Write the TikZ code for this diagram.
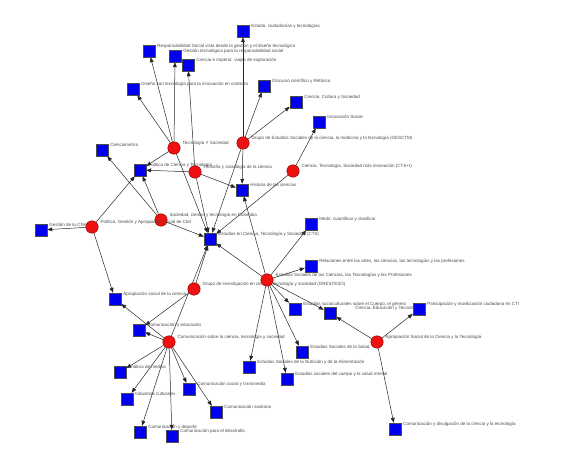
\documentclass[tikz,border=0pt]{standalone}
\usepackage{fontspec}
\setmainfont{Liberation Sans}
\usetikzlibrary{arrows.meta,positioning,backgrounds}
\definecolor{sqblue}{HTML}{0000EE}
\definecolor{dotred}{HTML}{EE1111}
\definecolor{labgray}{HTML}{4A4A4A}

\begin{document}
\begin{tikzpicture}[x=1pt,y=-1pt,
  bsq/.style={draw=black!70,fill=sqblue,minimum size=12pt,inner sep=0pt},
  rdot/.style={circle,draw=red!55!black,fill=dotred,minimum size=12.5pt,inner sep=0pt},
  lab/.style={font=\fontsize{4.5}{5}\selectfont,text=labgray,inner sep=0pt,yshift=5pt},
  label distance=2pt,
  arr/.style={-{Triangle[length=5pt,width=3.8pt]},line width=0.5pt,draw=black!85},
]
\useasboundingbox (0,0) rectangle (576,473);
% groups
\node[rdot,label={[lab]east:Tecnología Y Sociedad}] (tys) at (174,148) {};
\node[rdot,label={[lab]east:{Grupo de Estudios Sociales de la ciencia, la medicina y la tecnología (GESCTM)}}] (gesctm) at (243,143) {};
\node[rdot,label={[lab]east:Filosofía y sociología de la ciencia}] (filo) at (195,172) {};
\node[rdot,label={[lab]east:{Ciencia, Tecnología, Sociedad más innovación (CTS+I)}}] (ctsi) at (293,171) {};
\node[rdot,label={[lab]east:{Sociedad, ciencia y tecnología en Colombia}}] (scc) at (161,220) {};
\node[rdot,label={[lab]east:{Política, Gestión y Apropiación Social de CteI}}] (pgas) at (92,227) {};
\node[rdot,label={[lab]east:{Grupo de investigación en ciencia, tecnología y sociedad (GRESTESO)}}] (grest) at (194,289) {};
\node[rdot,label={[lab]east:{Estudios Sociales de las Ciencias, las Tecnologías y las Profesiones}}] (profes) at (267,280) {};
\node[rdot,label={[lab]east:{Comunicación sobre la ciencia, tecnología y sociedad}}] (comcts) at (169,342) {};
\node[rdot,label={[lab]east:Apropiación Social de la Ciencia y la Tecnología}] (asct) at (377,342) {};
% lines
\node[bsq,label={[lab]east:{Estado, ciudadanías y tecnologías}}] (estado) at (243,31) {};
\node[bsq,label={[lab]east:Responsabilidad Social vista desde la gestión y el diseño tecnológico}] (resp) at (149,51) {};
\node[bsq,label={[lab]east:Gestión tecnológica para la responsabilidad social}] (gestec) at (175,56) {};
\node[bsq,label={[lab]east:{Ciencia e Imperio: viajes de exploración}}] (imperio) at (188,65) {};
\node[bsq,label={[lab]east:Diseño con tecnología para la innovación en contexto}] (diseno) at (133,89) {};
\node[bsq,label={[lab]east:Discurso científico y Retórica}] (discurso) at (264,86) {};
\node[bsq,label={[lab]east:{Ciencia, Cultura y Sociedad}}] (cultura) at (296,102) {};
\node[bsq,label={[lab]east:Innovación Social}] (innov) at (319,122) {};
\node[bsq,label={[lab]east:Cienciometría}] (cienciom) at (102,150) {};
\node[bsq,label={[lab]east:Política de Ciencia y Tecnología}] (polcyt) at (140,170) {};
\node[bsq,label={[lab]east:Historia de las ciencias}] (historia) at (242,190) {};
\node[bsq,label={[lab]east:Gestión de la CTeI}] (gestcti) at (41,230) {};
\node[bsq,label={[lab]east:{Estudios en Ciencia, Tecnología y Sociedad (CTS)}}] (cts) at (210,239) {};
\node[bsq,label={[lab]east:{Medir, cuantificar y clasificar}}] (medir) at (311,224) {};
\node[bsq,label={[lab]east:{Relaciones entre las artes, las ciencias, las tecnologías y las profesiones}}] (relac) at (311,266) {};
\node[bsq,label={[lab]east:Apropiación social de la ciencia}] (aprop) at (115,299) {};
\node[bsq,label={[lab]east:Comunicación y educación}] (comedu) at (139,330) {};
\node[bsq,label={[lab]east:{Estudios socioculturales sobre el Cuerpo, el género}}] (cuerpo) at (295,309) {};
\node[bsq,label={[lab,xshift=17pt]east:{Ciencia, Educación y Tecnología}}] (ciedu) at (330,313) {};
\node[bsq,label={[lab]east:Participación y movilización ciudadana en CTI}] (partic) at (419,309) {};
\node[bsq,label={[lab]east:Estudios Sociales de la Salud}] (salud) at (302,352) {};
\node[bsq,label={[lab]east:Estudios Sociales de la Nutrición y de la Alimentación}] (nutri) at (249,367) {};
\node[bsq,label={[lab]east:Estudios sociales del cuerpo y la salud mental}] (mental) at (287,379) {};
\node[bsq,label={[lab]east:Comunicación y divulgación de la ciencia y la tecnología}] (divulg) at (395,429) {};
\node[bsq,label={[lab]east:Análisis de medios}] (medios) at (120,372) {};
\node[bsq,label={[lab]east:Industrias culturales}] (indus) at (127,399) {};
\node[bsq,label={[lab]east:Comunicación social y transmedia}] (transm) at (189,389) {};
\node[bsq,label={[lab]east:Comunicación sanitaria}] (sanit) at (216,412) {};
\node[bsq,label={[lab]east:Comunicación y deporte}] (deporte) at (140,432) {};
\node[bsq,label={[lab]east:Comunicación para el desarrollo}] (desarr) at (172,436) {};
% ties
\begin{scope}[on background layer]
\foreach \t in {diseno,resp,gestec,polcyt,cts} \draw[arr] (tys) -- (\t);
\foreach \t in {imperio,polcyt,historia,cts} \draw[arr] (filo) -- (\t);
\foreach \t in {estado,discurso,cultura,historia,cts} \draw[arr] (gesctm) -- (\t);
\foreach \t in {innov,cts} \draw[arr] (ctsi) -- (\t);
\foreach \t in {cienciom,polcyt,cts} \draw[arr] (scc) -- (\t);
\foreach \t in {gestcti,polcyt,aprop} \draw[arr] (pgas) -- (\t);
\foreach \t in {cts,comedu} \draw[arr] (grest) -- (\t);
\foreach \t in {cts,historia,medir,relac,cuerpo,ciedu,salud,nutri,mental} \draw[arr] (profes) -- (\t);
\foreach \t in {cts,comedu,aprop,medios,indus,transm,sanit,deporte,desarr} \draw[arr] (comcts) -- (\t);
\foreach \t in {ciedu,partic,divulg} \draw[arr] (asct) -- (\t);
\end{scope}
\end{tikzpicture}
\end{document}
